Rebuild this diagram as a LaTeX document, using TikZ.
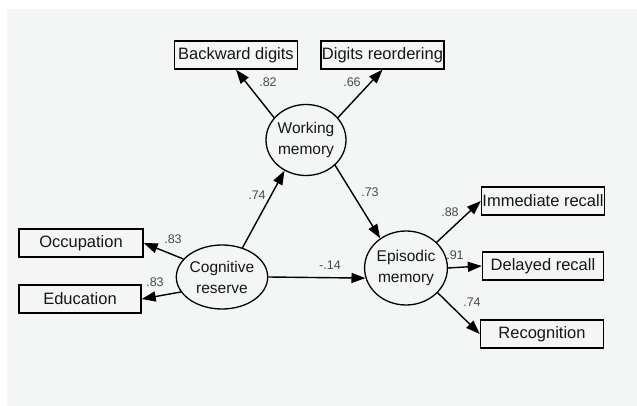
\documentclass[tikz,border=0pt]{standalone}
\usepackage{fontspec}
\setmainfont{Liberation Sans}
\usetikzlibrary{arrows.meta,shapes.geometric}
\definecolor{bgc}{HTML}{F3F6F5}
\definecolor{txt}{HTML}{161616}
\definecolor{lab}{HTML}{4A4A4A}
\tikzset{
  obs/.style={draw=black, line width=1.4pt, rectangle, minimum width=123pt, minimum height=28pt, inner sep=0pt, text=txt, font=\fontsize{16.5}{18}\selectfont},
  lat/.style={draw=black, line width=1.3pt, ellipse, inner sep=0pt, text=txt, align=center, font=\fontsize{15.5}{21}\selectfont},
  path/.style={draw=black, line width=1.4pt, -{Triangle[length=14pt,width=10pt]}},
  coef/.style={text=lab, font=\fontsize{12.5}{14}\selectfont, inner sep=0pt}
}
\begin{document}
\begin{tikzpicture}[x=1pt,y=-1pt]
\useasboundingbox (0,0) rectangle (637,406);
\fill[white] (0,0) rectangle (637,406);
\fill[bgc] (7,9) rectangle (637,406);
% observed
\node[obs] (bd) at (236,55) {Backward digits};
\node[obs] (dr) at (382.5,55) {Digits reordering};
\node[obs, minimum width=124pt] (occ) at (81,243) {Occupation};
\node[obs, minimum width=122pt] (edu) at (80,299) {Education};
\node[obs] (ir) at (543,201) {Immediate recall};
\node[obs, minimum width=121pt] (dl) at (543,266) {Delayed recall};
\node[obs] (rec) at (542,334) {Recognition};
% latent
\node[lat, minimum width=75pt, minimum height=71pt] (wm) at (306,140) {Working\\memory};
\node[lat, minimum width=84pt, minimum height=64pt] (cr) at (222,277) {Cognitive\\reserve};
\node[lat, minimum width=75pt, minimum height=74pt] (em) at (406,268) {Episodic\\memory};
% paths
\draw[path] (wm.145) -- (bd.south);
\draw[path] (wm.35) -- (dr.south);
\draw[path] (cr.55) -- (wm.235);
\draw[path] (wm.-41) -- (em.131);
\draw[path] (cr.east) -- (em.194);
\draw[path] (cr.155) -- (occ.east);
\draw[path] (cr.200) -- (edu.east);
\draw[path] (em.40) -- (ir.west);
\draw[path] (em.east) -- (dl.west);
\draw[path] (em.-38) -- (rec.west);
% coefficients
\node[coef] (c1) at (268,82) {.82};
\node[coef] (c2) at (352,82) {.66};
\node[coef] (c3) at (257,195) {.74};
\node[coef] (c4) at (370,192) {.73};
\node[coef] (c5) at (330,265) {-.14};
\node[coef] (c6) at (173,239) {.83};
\node[coef] (c7) at (155,282) {.83};
\node[coef] (c8) at (450,212) {.88};
\node[coef] (c9) at (455,255) {.91};
\node[coef] (c10) at (472,302) {.74};
\end{tikzpicture}
\end{document}
